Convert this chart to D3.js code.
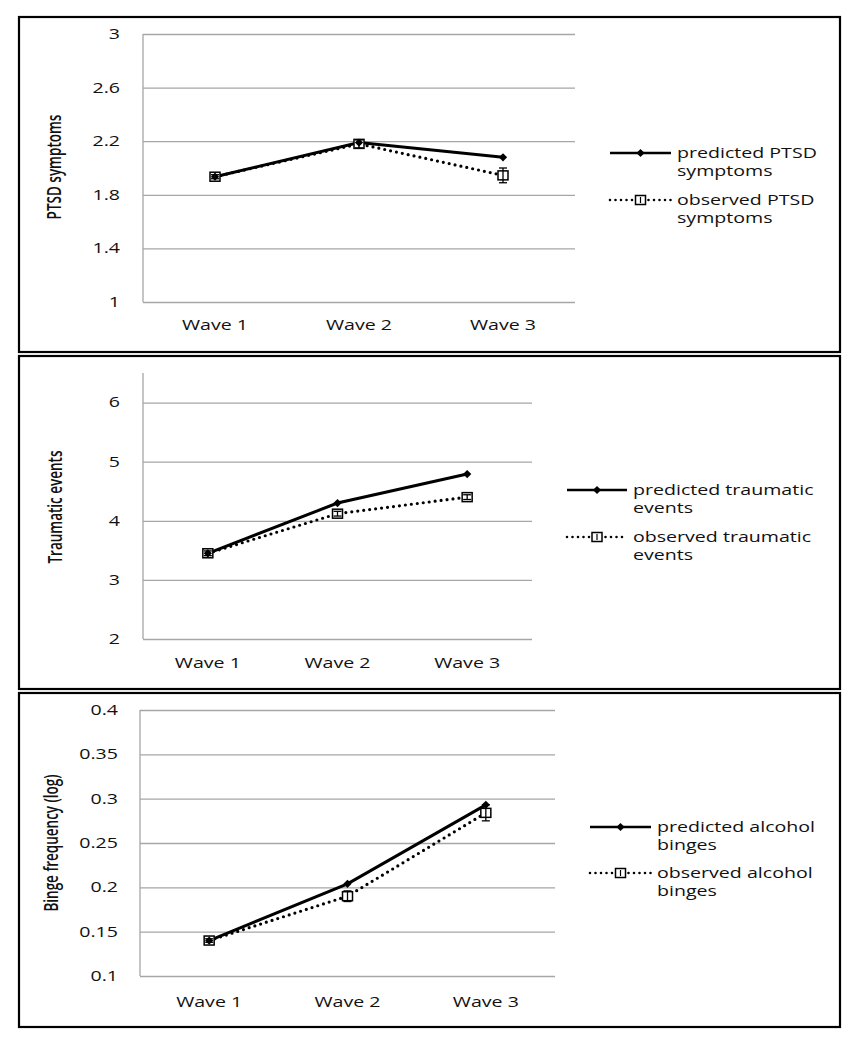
<!DOCTYPE html>
<html><head><meta charset="utf-8">
<script src="https://cdn.jsdelivr.net/npm/d3@7"></script>
<style>body{margin:0;background:#fff}svg{display:block}</style>
</head><body>
<svg id="c" width="859" height="1050"></svg>
<script>
const waves = ["Wave 1", "Wave 2", "Wave 3"];

const ptsdPredicted = [1.935, 2.19, 2.08];
const ptsdObserved = [1.935, 2.18, 1.945];
const ptsdObservedErr = [0.015, 0.03, 0.055];
const ptsdTicks = [1, 1.4, 1.8, 2.2, 2.6, 3];

const traumaPredicted = [3.45, 4.30, 4.79];
const traumaObserved = [3.45, 4.12, 4.40];
const traumaObservedErr = [0.04, 0.04, 0.04];
const traumaTicks = [2, 3, 4, 5, 6];

const bingePredicted = [0.140, 0.204, 0.293];
const bingeObserved = [0.140, 0.190, 0.284];
const bingeObservedErr = [0.002, 0.006, 0.009];
const bingeTicks = [0.1, 0.15, 0.2, 0.25, 0.3, 0.35, 0.4];

const panels = [
  {title: "PTSD symptoms", pred: ptsdPredicted, obs: ptsdObserved, err: ptsdObservedErr, ticks: ptsdTicks,
   domain: [1, 3], legendPred: ["predicted PTSD", "symptoms"], legendObs: ["observed PTSD", "symptoms"],
   frame: {x: 19, y: 17, w: 821, h: 335}, plot: {l: 143, r: 575, t: 34, b: 302}, tickX: 120, titleX: 54, titleY: 167,
   xLabY: 325, leg: {x1: 610, x2: 671, tx: 677, y1: 153, y2: 200}},
  {title: "Traumatic events", pred: traumaPredicted, obs: traumaObserved, err: traumaObservedErr, ticks: traumaTicks,
   domain: [2, 6.5], legendPred: ["predicted traumatic", "events"], legendObs: ["observed traumatic", "events"],
   frame: {x: 19, y: 356, w: 821, h: 333}, plot: {l: 143, r: 532, t: 373, b: 639}, tickX: 120, titleX: 55, titleY: 507,
   xLabY: 663, leg: {x1: 567, x2: 627, tx: 633, y1: 490, y2: 537}},
  {title: "Binge frequency (log)", pred: bingePredicted, obs: bingeObserved, err: bingeObservedErr, ticks: bingeTicks,
   domain: [0.1, 0.4], legendPred: ["predicted alcohol", "binges"], legendObs: ["observed alcohol", "binges"],
   frame: {x: 19, y: 693, w: 821, h: 334}, plot: {l: 140, r: 555, t: 710, b: 976}, tickX: 118, titleX: 51, titleY: 843,
   xLabY: 1002, leg: {x1: 590, x2: 651, tx: 657, y1: 827, y2: 873}}
];

const svg = d3.select("#c");
const SX = 1.4;
const FONT = "'Open Sans', 'DejaVu Sans', sans-serif";
const grid = "#a6a6a6";

function stext(g, x, y, str, anchor, size, weight) {
  return g.append("text")
    .attr("transform", `translate(${x},${y}) scale(${SX},1)`)
    .attr("text-anchor", anchor).attr("dy", "0.35em")
    .attr("font-family", FONT).attr("font-size", size || 14)
    .attr("font-weight", weight || 400).attr("fill", "#111").text(str);
}

const diamond = d3.symbol().type(d3.symbolSquare).size(34);
function addDiamond(g, cx, cy) {
  g.append("path").attr("d", diamond).attr("transform", `translate(${cx},${cy}) rotate(45)`).attr("fill", "#000");
}

panels.forEach(p => {
  const g = svg.append("g");
  g.append("rect").attr("x", p.frame.x).attr("y", p.frame.y).attr("width", p.frame.w).attr("height", p.frame.h)
    .attr("fill", "none").attr("stroke", "#000").attr("stroke-width", 2.2);

  const x = d3.scalePoint().domain(waves).range([p.plot.l, p.plot.r]).padding(0.5);
  const y = d3.scaleLinear().domain(p.domain).range([p.plot.b, p.plot.t]);

  const ga = g.append("g").attr("transform", `translate(${p.plot.l},0)`)
    .call(d3.axisLeft(y).tickValues(p.ticks).tickSize(-(p.plot.r - p.plot.l)).tickFormat(""));
  ga.select(".domain").remove();
  ga.selectAll(".tick line").attr("stroke", grid).attr("stroke-width", 1.3);
  g.append("line").attr("x1", p.plot.l).attr("x2", p.plot.l).attr("y1", y(p.domain[1])).attr("y2", y(p.domain[0]))
    .attr("stroke", grid).attr("stroke-width", 1.3);

  p.ticks.forEach(t => stext(g, p.tickX, y(t), String(t), "end", 14));
  waves.forEach(w => stext(g, x(w), p.xLabY, w, "middle", 14));

  g.append("text")
    .attr("transform", `translate(${p.titleX},${p.titleY}) scale(${SX},1) rotate(-90)`)
    .attr("text-anchor", "middle").attr("dy", "0.35em")
    .attr("font-family", FONT).attr("font-size", 13.5).attr("font-weight", 600).attr("fill", "#111")
    .text(p.title);

  const line = d3.line().x((d, i) => x(waves[i])).y(d => y(d));

  g.append("path").attr("d", line(p.obs)).attr("fill", "none").attr("stroke", "#000")
    .attr("stroke-width", 3.2).attr("stroke-linecap", "round").attr("stroke-dasharray", "0,6");
  g.append("path").attr("d", line(p.pred)).attr("fill", "none").attr("stroke", "#000").attr("stroke-width", 3);

  p.obs.forEach((v, i) => {
    const cx = x(waves[i]), cy = y(v);
    g.append("rect").attr("x", cx - 5).attr("y", cy - 4.5).attr("width", 10).attr("height", 9)
      .attr("fill", "#fff").attr("stroke", "#000").attr("stroke-width", 1.5);
    const e1 = y(v + p.err[i]), e2 = y(v - p.err[i]);
    g.append("line").attr("x1", cx).attr("x2", cx).attr("y1", e1).attr("y2", e2).attr("stroke", "#000").attr("stroke-width", 1.3);
    [e1, e2].forEach(ey => g.append("line").attr("x1", cx - 4).attr("x2", cx + 4).attr("y1", ey).attr("y2", ey)
      .attr("stroke", "#000").attr("stroke-width", 1.3));
  });
  p.pred.forEach((v, i) => addDiamond(g, x(waves[i]), y(v)));

  const L = p.leg, mx = (L.x1 + L.x2) / 2;
  g.append("line").attr("x1", L.x1).attr("x2", L.x2).attr("y1", L.y1).attr("y2", L.y1).attr("stroke", "#000").attr("stroke-width", 2.6);
  addDiamond(g, mx, L.y1);
  stext(g, L.tx, L.y1, p.legendPred[0], "start", 14);
  stext(g, L.tx, L.y1 + 18.5, p.legendPred[1], "start", 14);

  g.append("line").attr("x1", L.x1).attr("x2", L.x2).attr("y1", L.y2).attr("y2", L.y2).attr("stroke", "#000")
    .attr("stroke-width", 2.6).attr("stroke-linecap", "round").attr("stroke-dasharray", "0,5.5");
  g.append("rect").attr("x", mx - 5).attr("y", L.y2 - 4.5).attr("width", 10).attr("height", 9)
    .attr("fill", "#fff").attr("stroke", "#000").attr("stroke-width", 1.5);
  g.append("line").attr("x1", mx).attr("x2", mx).attr("y1", L.y2 - 3).attr("y2", L.y2 + 3).attr("stroke", "#000").attr("stroke-width", 1.2);
  stext(g, L.tx, L.y2, p.legendObs[0], "start", 14);
  stext(g, L.tx, L.y2 + 18.5, p.legendObs[1], "start", 14);
});
</script>
</body></html>
